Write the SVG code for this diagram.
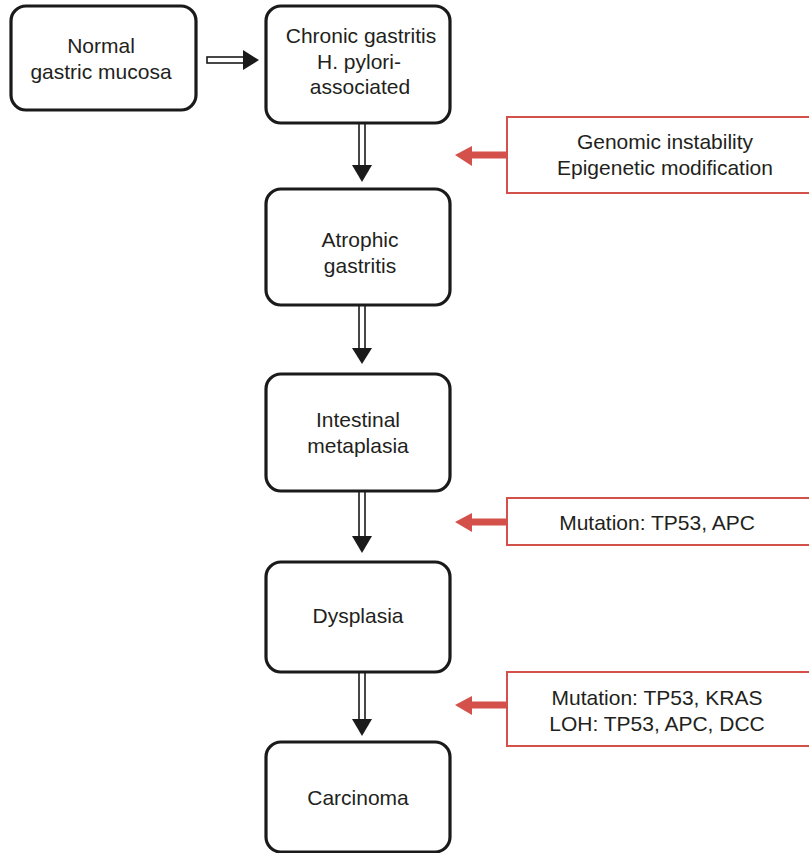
<svg xmlns="http://www.w3.org/2000/svg" width="809" height="853" viewBox="0 0 809 853">
<style>
.node{fill:#fff;stroke:#1a1a1a;stroke-width:3.2}
.rbox{fill:#fff;stroke:#d4504a;stroke-width:2}
.t{font-family:"Liberation Sans",Arial,sans-serif;font-size:21px;fill:#231f20;text-anchor:middle}
.shaft{fill:#fff;stroke:#1a1a1a;stroke-width:1.6}
.head{fill:#1a1a1a}
.rshaft{stroke:#d4504a;stroke-width:7;fill:none}
.rhead{fill:#d4504a}
</style>
<rect width="809" height="853" fill="#fff"/>
<g id="connectors">
  <g id="c-normal-chronic">
    <rect class="shaft" x="207" y="57" width="38" height="6"/>
    <polygon class="head" points="243,50 259,60 243,70"/>
  </g>
  <g id="c-chronic-atrophic">
    <rect class="shaft" x="359" y="123" width="6" height="44"/>
    <polygon class="head" points="352,165 372,165 362,182"/>
  </g>
  <g id="c-atrophic-intestinal">
    <rect class="shaft" x="359" y="305" width="6" height="45"/>
    <polygon class="head" points="352,348 372,348 362,364"/>
  </g>
  <g id="c-intestinal-dysplasia">
    <rect class="shaft" x="359" y="491" width="6" height="47"/>
    <polygon class="head" points="352,536 372,536 362,553"/>
  </g>
  <g id="c-dysplasia-carcinoma">
    <rect class="shaft" x="359" y="672" width="6" height="49"/>
    <polygon class="head" points="352,719 372,719 362,736"/>
  </g>
  <g id="r1">
    <line class="rshaft" x1="507" y1="155" x2="470" y2="155"/>
    <polygon class="rhead" points="472,146 455,155 472,166"/>
  </g>
  <g id="r2">
    <line class="rshaft" x1="507" y1="522" x2="470" y2="522"/>
    <polygon class="rhead" points="472,513 455,522 472,532"/>
  </g>
  <g id="r3">
    <line class="rshaft" x1="507" y1="705" x2="470" y2="705"/>
    <polygon class="rhead" points="472,696 455,705 472,715"/>
  </g>
</g>
<g id="normal">
  <rect class="node" x="11" y="6" width="185" height="104" rx="15"/>
  <text class="t" x="101" y="53">Normal</text>
  <text class="t" x="101" y="79">gastric mucosa</text>
</g>
<g id="chronic">
  <rect class="node" x="266" y="6" width="184" height="117" rx="15"/>
  <text class="t" x="361" y="43">Chronic gastritis</text>
  <text class="t" x="359" y="69">H. pylori-</text>
  <text class="t" x="360" y="94">associated</text>
</g>
<g id="atrophic">
  <rect class="node" x="266" y="189" width="184" height="116" rx="15"/>
  <text class="t" x="360" y="247">Atrophic</text>
  <text class="t" x="360" y="273">gastritis</text>
</g>
<g id="intestinal">
  <rect class="node" x="266" y="374" width="184" height="117" rx="15"/>
  <text class="t" x="358" y="427">Intestinal</text>
  <text class="t" x="358" y="453">metaplasia</text>
</g>
<g id="dysplasia">
  <rect class="node" x="266" y="562" width="184" height="110" rx="15"/>
  <text class="t" x="358" y="623">Dysplasia</text>
</g>
<g id="carcinoma">
  <rect class="node" x="266" y="742" width="184" height="110" rx="15"/>
  <text class="t" x="358" y="805">Carcinoma</text>
</g>
<g id="box-genomic">
  <rect class="rbox" x="507" y="117" width="310" height="76"/>
  <text class="t" x="665" y="149">Genomic instability</text>
  <text class="t" x="665" y="175">Epigenetic modification</text>
</g>
<g id="box-mut1">
  <rect class="rbox" x="507" y="498" width="310" height="47"/>
  <text class="t" x="657" y="530">Mutation: TP53, APC</text>
</g>
<g id="box-mut2">
  <rect class="rbox" x="507" y="672" width="310" height="74"/>
  <text class="t" x="657" y="705">Mutation: TP53, KRAS</text>
  <text class="t" x="657" y="731">LOH: TP53, APC, DCC</text>
</g>
</svg>
